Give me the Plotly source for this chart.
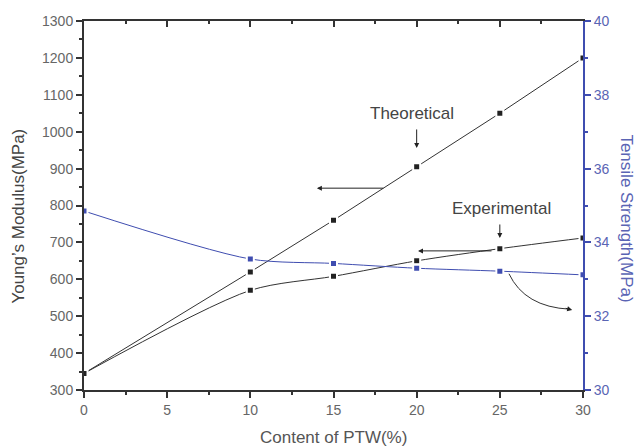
import plotly.graph_objects as go

content = [0, 10, 15, 20, 25, 30]
theoretical = [345, 620, 760, 905, 1050, 1200]
experimental = [345, 570, 608, 650, 683, 712]
tensile = [34.85, 33.55, 33.43, 33.3, 33.22, 33.12]

x_ticks = [0, 5, 10, 15, 20, 25, 30]
y_ticks = list(range(300, 1301, 100))
y2_ticks = [30, 32, 34, 36, 38, 40]

BLACK = "#222222"
AX = "#333333"
BLUE = "#3f4db0"
BLUE_TXT = "#5a64b4"
FONT = "Liberation Sans, Arial, sans-serif"

fig = go.Figure()

fig.add_trace(go.Scatter(
    x=content, y=theoretical, mode="lines+markers",
    line=dict(color="#333333", width=1),
    marker=dict(symbol="square", size=7, color=BLACK, line=dict(color="white", width=2)),
    showlegend=False, hoverinfo="skip"))
fig.add_trace(go.Scatter(
    x=content, y=experimental, mode="lines+markers",
    line=dict(color="#333333", width=1, shape="spline", smoothing=0.8),
    marker=dict(symbol="square", size=7, color=BLACK, line=dict(color="white", width=2)),
    showlegend=False, hoverinfo="skip"))
fig.add_trace(go.Scatter(
    x=content, y=tensile, mode="lines+markers", yaxis="y2",
    line=dict(color=BLUE, width=1, shape="spline", smoothing=0.8),
    marker=dict(symbol="square", size=7, color=BLUE, line=dict(color="white", width=2)),
    showlegend=False, hoverinfo="skip"))
# invisible trace to anchor top axis
fig.add_trace(go.Scatter(x=[content[0]], y=[theoretical[0]], xaxis="x2", mode="markers",
                         marker=dict(opacity=0), showlegend=False, hoverinfo="skip"))

tickfont = dict(family=FONT, size=14, color="#666666")

fig.update_layout(
    width=635, height=446,
    margin=dict(l=84, r=52, t=21, b=56, autoexpand=False),
    paper_bgcolor="white", plot_bgcolor="white",
    font=dict(family=FONT),
    xaxis=dict(range=[0, 30], tickvals=x_ticks, showgrid=False, zeroline=False,
               automargin=False,
               showline=True, linecolor=AX, linewidth=2,
               ticks="outside", ticklen=6, tickwidth=1.5, tickcolor=AX,
               minor=dict(ticks="outside", ticklen=3, dtick=2.5, tickcolor=AX, tickwidth=1.5),
               tickfont=tickfont),
    xaxis2=dict(range=[0, 30], overlaying="x", side="top", anchor="y",
                automargin=False,
                tickvals=x_ticks, showgrid=False, zeroline=False, showticklabels=False,
                showline=True, linecolor=AX, linewidth=2,
                ticks="inside", ticklen=6, tickwidth=1.5, tickcolor=AX,
                minor=dict(ticks="inside", ticklen=3, dtick=2.5, tickcolor=AX, tickwidth=1.5)),
    yaxis=dict(range=[300, 1300], tickvals=y_ticks, showgrid=False, zeroline=False,
               automargin=False,
               showline=True, linecolor=AX, linewidth=2,
               ticks="outside", ticklen=6, tickwidth=1.5, tickcolor=AX,
               minor=dict(ticks="outside", ticklen=3, dtick=50, tickcolor=AX, tickwidth=1.5),
               tickfont=tickfont),
    yaxis2=dict(range=[30, 40], tickvals=y2_ticks, overlaying="y", side="right", anchor="x",
                automargin=False,
                showgrid=False, zeroline=False,
                showline=True, linecolor=BLUE, linewidth=2,
                ticks="outside", ticklen=6, tickwidth=1.5, tickcolor=BLUE,
                minor=dict(ticks="outside", ticklen=3, dtick=1, tickcolor=BLUE, tickwidth=1.5),
                tickfont=dict(family=FONT, size=14, color=BLUE_TXT)),
)

ann_font = dict(family=FONT, size=17, color="#444444")
arrow = dict(xref="x", yref="y", showarrow=True, arrowhead=2, arrowsize=1,
             arrowwidth=1, arrowcolor="#222222", text="")
annotations = [
    # axis titles
    dict(text="Content of PTW(%)", xref="paper", yref="paper", x=0.5, y=0,
         xanchor="center", yanchor="middle",
         yshift=-47, showarrow=False, font=dict(family=FONT, size=17, color="#555555")),
    dict(text="Young’s Modulus(MPa)", xref="paper", yref="paper", x=0, y=0.47,
         xanchor="center", yanchor="middle",
         xshift=-65, textangle=-90, showarrow=False,
         font=dict(family=FONT, size=17, color="#444444")),
    dict(text="Tensile Strength(MPa)", xref="paper", yref="paper", x=1, y=0.465,
         xanchor="center", yanchor="middle",
         xshift=44, textangle=90, showarrow=False,
         font=dict(family=FONT, size=17, color=BLUE_TXT)),
    # labels
    dict(text="Theoretical", x=19.7, y=1050, xref="x", yref="y", showarrow=False, font=ann_font),
    dict(text="Experimental", x=25.07, y=793, xref="x", yref="y", showarrow=False, font=ann_font),
    # down arrows
    dict(x=20.0, y=956, ax=0, ay=-20, **arrow),
    dict(x=25.0, y=712, ax=0, ay=-15, **arrow),
    # left arrows
    dict(x=14.0, y=847, ax=68, ay=0, **arrow),
    dict(x=20.08, y=677, ax=75, ay=0, **arrow),
    # curved arrow head
    dict(x=29.35, y=517, ax=-8, ay=-2, **arrow),
]
fig.update_layout(annotations=annotations)

fig.add_shape(type="path", xref="x", yref="y",
              path="M 25.55,615 Q 26.5,525 29.2,519",
              line=dict(color="#333333", width=1))

fig.write_html(
    "out.html",
    config={"displayModeBar": False},
    post_script="document.body.style.margin='0';document.body.style.overflow='hidden';",
)
